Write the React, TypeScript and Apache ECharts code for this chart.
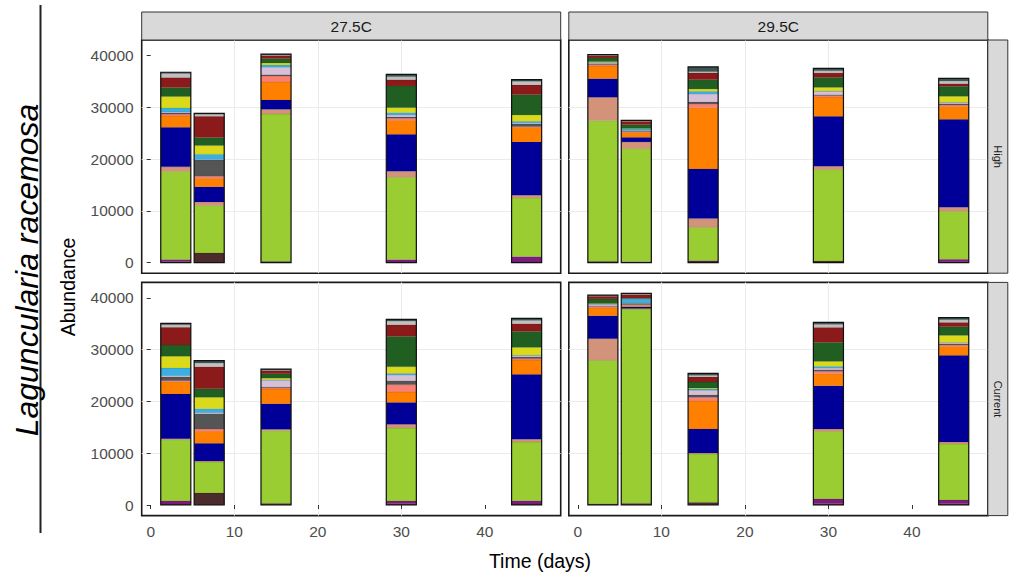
import React, { useEffect, useRef } from "react";
import * as echarts from "echarts";

// ---- data ----
const days = [3, 7, 15, 30, 45];
const temperatures = ["27.5C", "29.5C"];
const treatments = ["High", "Current"];
const taxa = [
  "Taxon 01", "Taxon 02", "Taxon 03", "Taxon 04", "Taxon 05",
  "Taxon 06", "Taxon 07", "Taxon 08", "Taxon 09", "Taxon 10",
  "Taxon 11", "Taxon 12", "Taxon 13", "Taxon 14", "Taxon 15",
];
const taxaColors = [
  "#4B2B2B", "#7D1B7E", "#9ACD32", "#D2937A", "#000099",
  "#FF8000", "#FA8072", "#555555", "#D8BFD8", "#3BB0E0",
  "#DADA1A", "#215E21", "#8B1A1A", "#C0C0C0", "#3B5454",
];
const yTicks = [0, 10000, 20000, 30000, 40000];
const xTicks = [0, 10, 20, 30, 40];

// rows = taxa (bottom to top), columns = days
const high275 = [
  [200, 1870, 250, 100, 100],
  [400, 0, 0, 480, 1060],
  [17000, 9140, 28470, 15906, 11334],
  [900, 710, 900, 1160, 515],
  [7660, 2960, 1800, 7148, 10304],
  [2190, 1610, 3480, 2705, 2833],
  [320, 390, 1160, 386, 129],
  [260, 3155, 258, 257, 515],
  [190, 100, 1420, 387, 194],
  [770, 1000, 450, 451, 322],
  [2190, 1670, 386, 966, 1223],
  [1740, 1545, 837, 4186, 3929],
  [1930, 4120, 580, 1223, 1867],
  [770, 390, 100, 580, 708],
  [258, 190, 190, 451, 322],
];
const high295 = [
  [258, 193, 386, 322, 144],
  [0, 0, 0, 0, 500],
  [27176, 21832, 6440, 17646, 9273],
  [4508, 1288, 1674, 644, 773],
  [3607, 901, 9596, 9659, 17002],
  [2447, 966, 11850, 3736, 2511],
  [258, 129, 708, 257, 258],
  [193, 100, 387, 193, 193],
  [129, 93, 1545, 645, 200],
  [100, 322, 516, 60, 122],
  [160, 100, 450, 700, 1160],
  [710, 737, 1803, 1932, 1932],
  [450, 644, 1288, 837, 515],
  [100, 100, 257, 451, 515],
  [93, 94, 902, 451, 515],
];
const current275 = [
  [193, 2318, 322, 258, 193],
  [580, 0, 0, 515, 644],
  [11849, 5990, 14039, 14103, 11335],
  [194, 193, 258, 709, 515],
  [8629, 3413, 4959, 4250, 12558],
  [2383, 2318, 2833, 1997, 2769],
  [193, 451, 258, 1417, 257],
  [709, 2963, 129, 772, 322],
  [257, 193, 1287, 1095, 258],
  [1481, 773, 130, 322, 100],
  [2254, 2189, 300, 1288, 1510],
  [2190, 1675, 837, 5860, 3091],
  [3413, 4250, 580, 2254, 1481],
  [515, 708, 100, 709, 644],
  [258, 451, 222, 322, 387],
];
const current295 = [
  [258, 322, 515, 258, 258],
  [0, 0, 0, 901, 708],
  [27692, 37545, 9338, 13073, 10819],
  [4186, 100, 193, 451, 387],
  [4443, 350, 4637, 8372, 16743],
  [1482, 258, 5409, 2319, 1739],
  [322, 130, 709, 450, 258],
  [130, 256, 451, 322, 193],
  [257, 60, 902, 322, 193],
  [60, 838, 257, 322, 100],
  [100, 0, 193, 966, 1381],
  [900, 100, 1160, 3671, 1675],
  [515, 672, 966, 2898, 837],
  [100, 100, 322, 580, 515],
  [93, 158, 386, 386, 387],
];

// ---- layout ----
const BAR_W = 3.6;
const X_MIN = -1.08;
const X_MAX = 49.08;
const Y_MIN = -2048;
const Y_MAX = 43014;
const COL_LEFT = [141.7, 568.8];
const COL_W = 419;
const ROW_TOP = [40, 282.4];
const ROW_H = 233.2;
const FONT = "'Liberation Sans', Arial, sans-serif";

const panels = [
  { row: 0, col: 0, values: high275 },
  { row: 0, col: 1, values: high295 },
  { row: 1, col: 0, values: current275 },
  { row: 1, col: 1, values: current295 },
];

function segments(values: number[][]) {
  const out: number[][] = [];
  days.forEach((d, j) => {
    let cum = 0;
    values.forEach((row, k) => {
      const v = row[j];
      if (v > 0) {
        out.push([d, cum, cum + v, k]);
        cum += v;
      }
    });
  });
  return out;
}

function totals(values: number[][]) {
  return days.map((d, j) => [d, values.reduce((s, row) => s + row[j], 0)]);
}

export default function App() {
  const ref = useRef<HTMLDivElement>(null);
  useEffect(() => {
    if (!ref.current) return;
    const chart = echarts.init(ref.current, undefined, { renderer: "svg" });

    const grids = panels.map((p) => ({
      left: COL_LEFT[p.col],
      top: ROW_TOP[p.row],
      width: COL_W,
      height: ROW_H,
      show: true,
      borderColor: "#1a1a1a",
      borderWidth: 1.6,
      backgroundColor: "#fff",
      containLabel: false,
    }));

    const xAxes = panels.map((p, i) => ({
      type: "value",
      gridIndex: i,
      min: X_MIN,
      max: X_MAX,
      minInterval: 5,
      maxInterval: 5,
      axisLine: { show: false },
      axisTick: {
        show: p.row === 1,
        length: 4,
        lineStyle: { color: "#333" },
        customValues: xTicks,
      },
      axisLabel: {
        show: p.row === 1,
        color: "#4D4D4D",
        fontSize: 15.5,
        fontFamily: FONT,
        margin: 8,
        customValues: xTicks,
        formatter: (v: number) => (v % 10 === 0 ? String(v) : ""),
      },
      splitLine: {
        show: true,
        showMinLine: false,
        showMaxLine: false,
        lineStyle: { color: "#EBEBEB", width: 1 },
      },
    }));

    const yAxes = panels.map((p, i) => ({
      type: "value",
      gridIndex: i,
      min: Y_MIN,
      max: Y_MAX,
      minInterval: 5000,
      maxInterval: 5000,
      axisLine: { show: false },
      axisTick: {
        show: p.col === 0,
        length: 4,
        lineStyle: { color: "#333" },
        customValues: yTicks,
      },
      axisLabel: {
        show: p.col === 0,
        color: "#4D4D4D",
        fontSize: 15.5,
        fontFamily: FONT,
        margin: 8,
        customValues: yTicks,
        formatter: (v: number) => (v % 10000 === 0 ? String(v) : ""),
      },
      splitLine: {
        show: true,
        showMinLine: false,
        showMaxLine: false,
        lineStyle: { color: "#EBEBEB", width: 1 },
      },
    }));

    const series: any[] = [];
    panels.forEach((p, i) => {
      series.push({
        type: "custom",
        xAxisIndex: i,
        yAxisIndex: i,
        data: segments(p.values),
        encode: { x: 0, y: [1, 2] },
        renderItem: (params: any, api: any) => {
          const x = api.value(0);
          const y0 = api.value(1);
          const y1 = api.value(2);
          const k = api.value(3);
          const a = api.coord([x - BAR_W / 2, y1]);
          const b = api.coord([x + BAR_W / 2, y0]);
          return {
            type: "rect",
            shape: { x: a[0], y: a[1], width: b[0] - a[0], height: b[1] - a[1] },
            style: { fill: taxaColors[k], stroke: "rgba(0,0,0,0.18)", lineWidth: 0.4 },
          };
        },
        z: 2,
      });
      series.push({
        type: "custom",
        xAxisIndex: i,
        yAxisIndex: i,
        data: totals(p.values),
        encode: { x: 0, y: 1 },
        renderItem: (params: any, api: any) => {
          const x = api.value(0);
          const t = api.value(1);
          const a = api.coord([x - BAR_W / 2, t]);
          const b = api.coord([x + BAR_W / 2, 0]);
          return {
            type: "rect",
            shape: { x: a[0], y: a[1], width: b[0] - a[0], height: b[1] - a[1] },
            style: { fill: "none", stroke: "#111", lineWidth: 1.2 },
          };
        },
        z: 3,
      });
    });

    const graphics: any[] = [];
    temperatures.forEach((t, c) => {
      graphics.push({
        type: "rect",
        shape: { x: COL_LEFT[c], y: 12, width: COL_W, height: 28 },
        style: { fill: "#D9D9D9", stroke: "#333", lineWidth: 1 },
        z: 10,
      });
      graphics.push({
        type: "text",
        x: COL_LEFT[c] + COL_W / 2,
        y: 26,
        style: {
          text: t,
          fill: "#1A1A1A",
          font: `15.5px ${FONT}`,
          textAlign: "center",
          textVerticalAlign: "middle",
        },
        z: 11,
      });
    });
    treatments.forEach((t, r) => {
      graphics.push({
        type: "rect",
        shape: { x: COL_LEFT[1] + COL_W, y: ROW_TOP[r], width: 20, height: ROW_H },
        style: { fill: "#D9D9D9", stroke: "#333", lineWidth: 1 },
        z: 10,
      });
      graphics.push({
        type: "text",
        x: COL_LEFT[1] + COL_W + 10,
        y: ROW_TOP[r] + ROW_H / 2,
        rotation: -Math.PI / 2,
        style: {
          text: t,
          fill: "#1A1A1A",
          font: `11px ${FONT}`,
          textAlign: "center",
          textVerticalAlign: "middle",
        },
        z: 11,
      });
    });
    graphics.push({
      type: "line",
      shape: { x1: 40.5, y1: 5, x2: 40.5, y2: 533 },
      style: { stroke: "#222", lineWidth: 2 },
      z: 10,
    });
    graphics.push({
      type: "text",
      x: 27,
      y: 270,
      rotation: Math.PI / 2,
      style: {
        text: "Laguncularia racemosa",
        fill: "#000",
        font: `italic 32px ${FONT}`,
        textAlign: "center",
        textVerticalAlign: "middle",
      },
      z: 11,
    });
    graphics.push({
      type: "text",
      x: 68,
      y: 287,
      rotation: Math.PI / 2,
      style: {
        text: "Abundance",
        fill: "#000",
        font: `19.5px ${FONT}`,
        textAlign: "center",
        textVerticalAlign: "middle",
      },
      z: 11,
    });
    graphics.push({
      type: "text",
      x: 540,
      y: 561,
      style: {
        text: "Time (days)",
        fill: "#000",
        font: `19.5px ${FONT}`,
        textAlign: "center",
        textVerticalAlign: "middle",
      },
      z: 11,
    });

    chart.setOption({
      animation: false,
      backgroundColor: "#fff",
      grid: grids,
      xAxis: xAxes,
      yAxis: yAxes,
      series,
      graphic: graphics,
    });
    return () => chart.dispose();
  }, []);

  return (
    <div
      ref={ref}
      style={{ position: "absolute", left: 0, top: 0, width: 1010, height: 578 }}
    />
  );
}
